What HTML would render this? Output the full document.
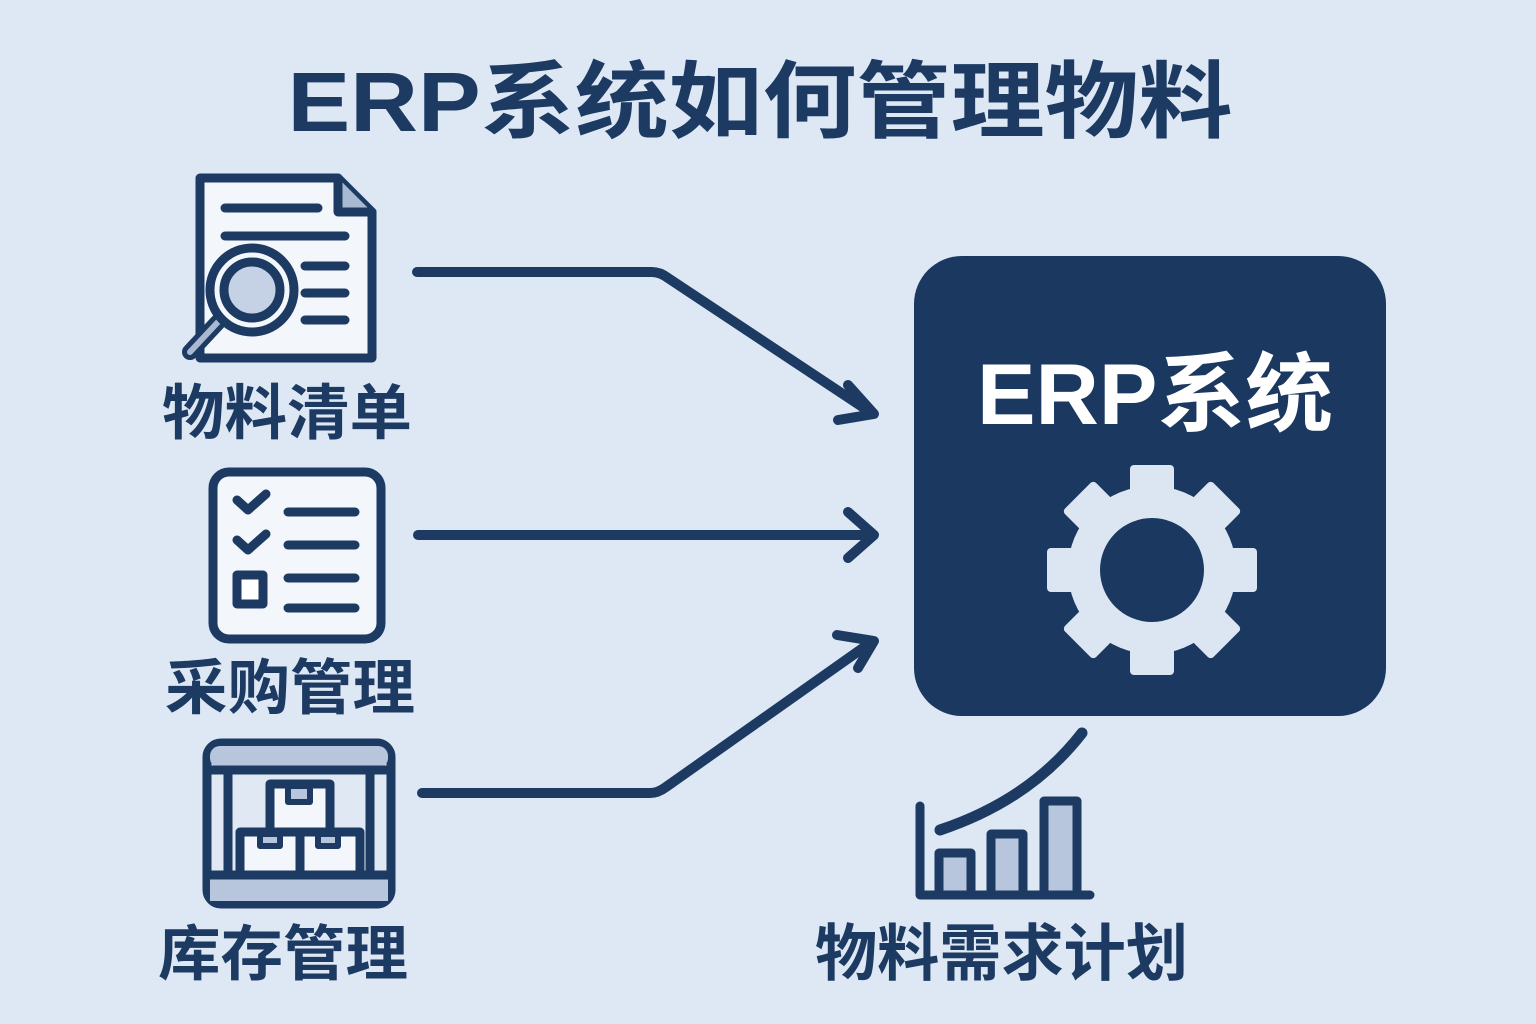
<!DOCTYPE html>
<html><head><meta charset="utf-8"><style>
html,body{margin:0;padding:0;background:#dde8f4;}
svg{display:block}
text{font-family:"Liberation Sans","Noto Sans CJK SC",sans-serif;font-weight:bold;fill:#1d3a63}
</style></head><body>
<svg width="1536" height="1024" viewBox="0 0 1536 1024" xmlns="http://www.w3.org/2000/svg">
<rect width="1536" height="1024" fill="#dde8f4"/>
<text x="760" y="131" font-size="84" text-anchor="middle" textLength="945" lengthAdjust="spacingAndGlyphs">ERP系统如何管理物料</text>

<g stroke="#1d3a63" stroke-width="9" stroke-linecap="round" stroke-linejoin="round" fill="none">
<!-- doc icon -->
<path d="M200,178 H338 L372,212 V358 H200 Z" fill="#f3f7fc"/>
<path d="M338,178 V212 H372" fill="#a9b9d2"/>
<line x1="225" y1="208" x2="318" y2="208"/>
<line x1="225" y1="236" x2="345" y2="236"/>
<line x1="305" y1="266" x2="345" y2="266"/>
<line x1="305" y1="293" x2="345" y2="293"/>
<line x1="305" y1="320" x2="345" y2="320"/>
<line x1="218" y1="322" x2="190" y2="352" stroke-width="16"/>
<line x1="218" y1="322" x2="190" y2="352" stroke="#a9b9d2" stroke-width="6"/>
<circle cx="252" cy="290" r="42" fill="#f3f7fc"/>
<circle cx="252" cy="290" r="28" fill="#c5d2e6"/>

<!-- checklist -->
<rect x="213" y="472" width="168" height="167" rx="16" fill="#f3f7fc"/>
<path d="M237,500 L248,510 L266,494"/>
<path d="M237,540 L248,550 L266,534"/>
<rect x="237" y="575" width="26" height="29" fill="#fff"/>
<line x1="288" y1="512" x2="355" y2="512"/>
<line x1="288" y1="545" x2="355" y2="545"/>
<line x1="288" y1="578" x2="355" y2="578"/>
<line x1="288" y1="608" x2="355" y2="608"/>

<!-- warehouse -->
<rect x="207" y="743" width="184" height="161" rx="14" fill="#dfe8f3"/>
<rect x="210" y="746" width="178" height="22" rx="10" fill="#b7c6dc" stroke="none"/>
<rect x="210" y="877" width="178" height="24" fill="#b7c6dc" stroke="none"/>
<line x1="207" y1="770" x2="391" y2="770"/>
<line x1="207" y1="875" x2="391" y2="875"/>
<line x1="228" y1="770" x2="228" y2="875"/>
<line x1="370" y1="770" x2="370" y2="875"/>
<rect x="270" y="784" width="60" height="48" fill="#f3f7fc"/>
<rect x="240" y="832" width="60" height="43" fill="#f3f7fc"/>
<rect x="300" y="832" width="60" height="43" fill="#f3f7fc"/>
<rect x="288" y="786" width="22" height="16" fill="#b7c6dc" stroke-width="6"/>
<rect x="260" y="834" width="20" height="12" fill="#b7c6dc" stroke-width="6"/>
<rect x="318" y="834" width="20" height="12" fill="#b7c6dc" stroke-width="6"/>

<!-- arrows -->
<g stroke-width="10">
<path d="M417,272 H652 Q660,272 668,278 L870,412"/>
<path d="M848,385 L874,414 L838,420"/>
<path d="M418,535 H872"/>
<path d="M848,512 L874,535 L848,558"/>
<path d="M422,793 H650 Q658,793 666,787 L870,643"/>
<path d="M837,635 L874,641 L858,668"/>
</g>

<!-- chart -->
<path d="M920,806 V895 H1090"/>
<rect x="939" y="853" width="32" height="42" fill="#b7c6dc"/>
<rect x="991" y="834" width="32" height="61" fill="#b7c6dc"/>
<rect x="1044" y="801" width="33" height="94" fill="#b7c6dc"/>
<path d="M940,830 Q1030,800 1082,733" stroke-width="11"/>
</g>

<!-- ERP box -->
<rect x="914" y="256" width="472" height="460" rx="48" fill="#1b3860"/>
<text x="1155" y="424" font-size="86" text-anchor="middle" style="fill:#fff" textLength="356" lengthAdjust="spacingAndGlyphs">ERP系统</text>
<g transform="translate(1152,570)" fill="#dce6f2">
<circle r="84"/>
<g>
<rect x="-22" y="-105" width="44" height="40" rx="4"/>
<rect x="-22" y="-105" width="44" height="40" rx="4" transform="rotate(45)"/>
<rect x="-22" y="-105" width="44" height="40" rx="4" transform="rotate(90)"/>
<rect x="-22" y="-105" width="44" height="40" rx="4" transform="rotate(135)"/>
<rect x="-22" y="-105" width="44" height="40" rx="4" transform="rotate(180)"/>
<rect x="-22" y="-105" width="44" height="40" rx="4" transform="rotate(225)"/>
<rect x="-22" y="-105" width="44" height="40" rx="4" transform="rotate(270)"/>
<rect x="-22" y="-105" width="44" height="40" rx="4" transform="rotate(315)"/>
</g>
<circle r="52" fill="#1b3860"/>
</g>

<text x="162" y="434" font-size="60" textLength="250" lengthAdjust="spacingAndGlyphs">物料清单</text>
<text x="165" y="709" font-size="60" textLength="250" lengthAdjust="spacingAndGlyphs">采购管理</text>
<text x="158" y="975" font-size="60" textLength="250" lengthAdjust="spacingAndGlyphs">库存管理</text>
<text x="815" y="975" font-size="62" textLength="373" lengthAdjust="spacingAndGlyphs">物料需求计划</text>
</svg>
</body></html>
